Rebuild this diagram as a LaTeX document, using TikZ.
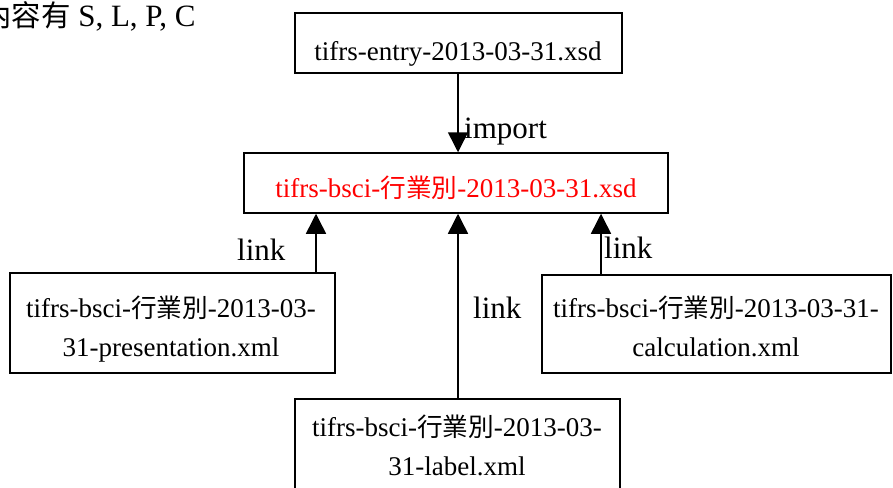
\documentclass[tikz,border=0pt]{standalone}
\usepackage{fontspec}
\setmainfont{Liberation Serif}
\newfontfamily\cjk{Noto Sans CJK TC}[Scale=0.95]
\usetikzlibrary{arrows.meta}

\tikzset{
  filebox/.style={draw, line width=1.5pt, inner sep=0pt},
  boxtext/.style={inner sep=0pt, anchor=base, align=center,
    font=\fontsize{27}{38.5}\selectfont},
  arr/.style={line width=1.5pt, -{Triangle[width=20pt,length=20pt]}},
  edgelabel/.style={inner sep=0pt, anchor=base west, font=\fontsize{31}{36}\selectfont},
}
\newcommand{\hy}{{\cjk 行業別}}

\begin{document}
\begin{tikzpicture}[x=1pt, y=-1pt]
  \useasboundingbox (0,0) rectangle (893,487);
  \clip (0,0) rectangle (893,487);

  % note in the upper left corner
  \node[inner sep=0pt, anchor=base west, font=\fontsize{31}{36}\selectfont]
    (note) at (-18,27) {{\cjk 內容有} S, L, P, C};

  % file boxes
  \node[filebox, minimum width=327pt, minimum height=60pt] (entry) at (458.5,43) {};
  \node[filebox, minimum width=424pt, minimum height=60pt] (bsci) at (456,183) {};
  \node[filebox, minimum width=325pt, minimum height=100pt] (pres) at (172.5,323) {};
  \node[filebox, minimum width=325pt, minimum height=100pt] (lab) at (457.5,449) {};
  \node[filebox, minimum width=349pt, minimum height=98pt] (calc) at (716.5,324) {};

  % file names (anchored on the baseline of the last line)
  \node[boxtext] (entrytext) at (458,60) {tifrs-entry-2013-03-31.xsd};
  \node[boxtext, text=red] (bscitext) at (456,197) {tifrs-bsci-\hy-2013-03-31.xsd};
  \node[boxtext] (prestext) at (171,356) {tifrs-bsci-\hy-2013-03-\\31-presentation.xml};
  \node[boxtext] (labtext) at (457,475) {tifrs-bsci-\hy-2013-03-\\31-label.xml};
  \node[boxtext] (calctext) at (716,356) {tifrs-bsci-\hy-2013-03-31-\\calculation.xml};

  % connector columns
  \coordinate (cImport) at (458,0);
  \coordinate (cPres) at (316,0);
  \coordinate (cLab) at (458,0);
  \coordinate (cCalc) at (601,0);

  \draw[arr] (entry.south -| cImport) -- (bsci.north -| cImport);
  \draw[arr] (pres.north -| cPres) -- (bsci.south -| cPres);
  \draw[arr] (lab.north -| cLab) -- (bsci.south -| cLab);
  \draw[arr] (calc.north -| cCalc) -- (bsci.south -| cCalc);

  % connector labels
  \node[edgelabel] (limport) at (464,138) {import};
  \node[edgelabel] (lpres) at (237,260) {link};
  \node[edgelabel] (llab) at (473,318) {link};
  \node[edgelabel] (lcalc) at (604,258) {link};
\end{tikzpicture}
\end{document}
